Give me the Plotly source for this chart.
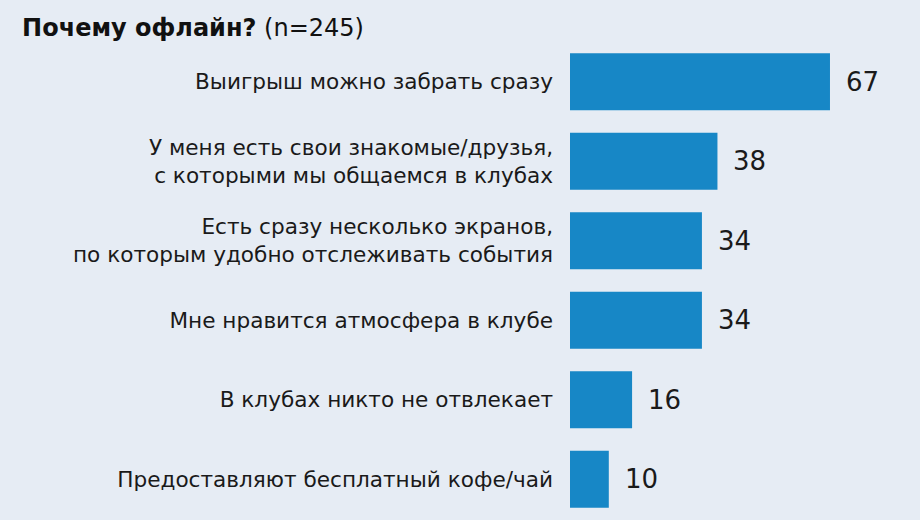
import plotly.graph_objects as go

categories = [
    "Выигрыш можно забрать сразу",
    "У меня есть свои знакомые/друзья,<br>с которыми мы общаемся в клубах",
    "Есть сразу несколько экранов,<br>по которым удобно отслеживать события",
    "Мне нравится атмосфера в клубе",
    "В клубах никто не отвлекает",
    "Предоставляют бесплатный кофе/чай",
]
values = [67, 38, 34, 34, 16, 10]
value_labels = ["67", "38", "34", "34", "16", "10"]

BG = "#e6ecf4"
BAR = "#1787c6"
FONT = "DejaVu Sans, Liberation Sans, Arial, sans-serif"

fig = go.Figure(
    go.Bar(
        x=values,
        y=categories,
        orientation="h",
        marker=dict(color=BAR, line=dict(width=0)),
        hoverinfo="skip",
    )
)

for c, v, t in zip(categories, values, value_labels):
    fig.add_annotation(
        x=v, y=c, xref="x", yref="y", text=t, showarrow=False,
        xanchor="left", yanchor="middle", xshift=14,
        font=dict(family=FONT, size=26, color="#1a1a1a"),
    )

fig.update_layout(
    width=920, height=520,
    paper_bgcolor=BG, plot_bgcolor=BG,
    margin=dict(l=570, r=0, t=42, b=1),
    bargap=0.285,
    showlegend=False,
    font=dict(family=FONT, size=21.6, color="#1a1a1a"),
    title=dict(
        text="<b>Почему офлайн?</b> (n=245)",
        x=0.024, xanchor="left", xref="container",
        y=1 - 28 / 520, yanchor="middle", yref="container",
        font=dict(family=FONT, size=24, color="#111111"),
    ),
    xaxis=dict(range=[0, 90.2], visible=False, fixedrange=True),
    yaxis=dict(
        autorange="reversed", showgrid=False, zeroline=False, showline=False,
        ticks="", ticklabelstandoff=16,
        tickfont=dict(family=FONT, size=21.6, color="#1a1a1a"),
        fixedrange=True,
    ),
)

fig.write_html(
    "out.html",
    config={"displayModeBar": False},
    post_script="document.body.style.margin='0';document.body.style.background='" + BG + "';",
)
